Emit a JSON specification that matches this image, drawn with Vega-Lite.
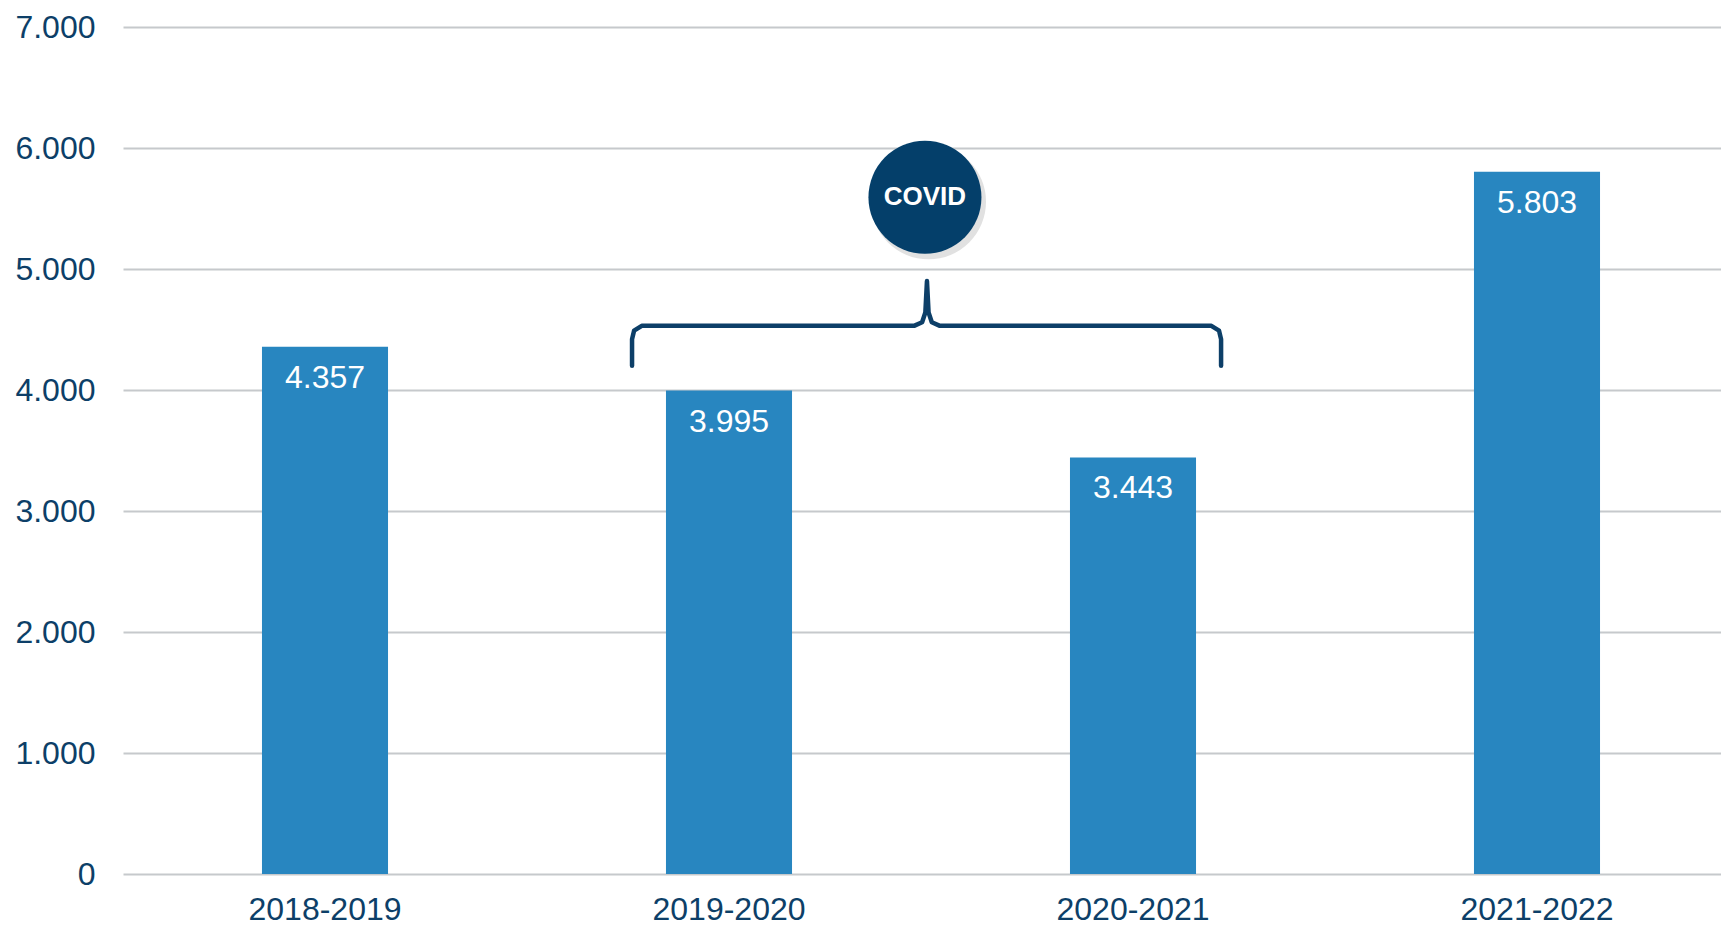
{
  "$schema": "https://vega.github.io/schema/vega-lite/v6.json",
  "autosize": {"type": "none"},
  "padding": {"left": 123, "top": 27, "right": 0, "bottom": 52},
  "width": 1616,
  "height": 847,
  "background": "#ffffff",
  "config": {
    "view": {"stroke": null},
    "font": "Liberation Sans",
    "locale": {"number": {"decimal": ",", "thousands": ".", "grouping": [3], "currency": ["", " €"]}}
  },
  "datasets": {
    "seasons": [
      {"season": "2018-2019", "value": 4357},
      {"season": "2019-2020", "value": 3995},
      {"season": "2020-2021", "value": 3443},
      {"season": "2021-2022", "value": 5803}
    ],
    "brace": [
      {"order": 1, "xi": 0.760, "v": 4200},
      {"order": 2, "xi": 0.760, "v": 4420},
      {"order": 3, "xi": 0.765, "v": 4490},
      {"order": 4, "xi": 0.784, "v": 4530},
      {"order": 5, "xi": 1.458, "v": 4530},
      {"order": 6, "xi": 1.478, "v": 4560},
      {"order": 7, "xi": 1.486, "v": 4640},
      {"order": 8, "xi": 1.490, "v": 4900},
      {"order": 9, "xi": 1.494, "v": 4640},
      {"order": 10, "xi": 1.502, "v": 4560},
      {"order": 11, "xi": 1.522, "v": 4530},
      {"order": 12, "xi": 2.194, "v": 4530},
      {"order": 13, "xi": 2.213, "v": 4490},
      {"order": 14, "xi": 2.218, "v": 4420},
      {"order": 15, "xi": 2.218, "v": 4200}
    ],
    "badge": [
      {"xi": 1.485, "v": 5593, "label": "COVID"}
    ],
    "badgeShadow": [
      {"xi": 1.494, "v": 5555}
    ]
  },
  "resolve": {"scale": {"x": "independent"}, "axis": {"x": "independent"}},
  "layer": [
    {
      "data": {"name": "seasons"},
      "mark": {"type": "bar", "color": "#2886C0"},
      "encoding": {
        "x": {
          "field": "season", "type": "nominal", "sort": null,
          "scale": {"paddingInner": 0.688, "paddingOuter": 0.344},
          "axis": {
            "title": null, "domain": false, "ticks": false, "tickSize": 0,
            "labelAngle": 0, "labelFontSize": 32, "labelColor": "#0D3F68",
            "labelPadding": 20, "grid": false
          }
        },
        "y": {
          "field": "value", "type": "quantitative",
          "scale": {"domain": [0, 7000], "nice": false},
          "axis": {
            "title": null, "domain": false, "ticks": false, "tickSize": 0,
            "values": [0, 1000, 2000, 3000, 4000, 5000, 6000, 7000],
            "format": ",d", "labelFontSize": 32, "labelColor": "#0D3F68",
            "labelPadding": 28, "gridColor": "#C6C9CC", "gridWidth": 2
          }
        }
      }
    },
    {
      "data": {"name": "seasons"},
      "mark": {"type": "text", "color": "#ffffff", "fontSize": 32, "baseline": "middle", "dy": 31},
      "encoding": {
        "x": {"field": "season", "type": "nominal", "sort": null, "scale": {"paddingInner": 0.688, "paddingOuter": 0.344}, "axis": null},
        "y": {"field": "value", "type": "quantitative"},
        "text": {"field": "value", "type": "quantitative", "format": ",d"}
      }
    },
    {
      "data": {"name": "brace"},
      "mark": {"type": "line", "color": "#0D3F68", "strokeWidth": 4.5, "strokeCap": "round", "strokeJoin": "round", "interpolate": "linear"},
      "encoding": {
        "x": {"field": "xi", "type": "quantitative", "scale": {"domain": [-0.5, 3.5], "nice": false, "zero": false}, "axis": null},
        "y": {"field": "v", "type": "quantitative"},
        "order": {"field": "order", "type": "quantitative"}
      }
    },
    {
      "data": {"name": "badgeShadow"},
      "mark": {"type": "point", "shape": "circle", "filled": true, "color": "#9A9A9A", "opacity": 0.3, "size": 13200},
      "encoding": {
        "x": {"field": "xi", "type": "quantitative", "scale": {"domain": [-0.5, 3.5], "nice": false, "zero": false}, "axis": null},
        "y": {"field": "v", "type": "quantitative"}
      }
    },
    {
      "data": {"name": "badge"},
      "mark": {"type": "point", "shape": "circle", "filled": true, "color": "#043F6A", "opacity": 1, "size": 12769},
      "encoding": {
        "x": {"field": "xi", "type": "quantitative", "scale": {"domain": [-0.5, 3.5], "nice": false, "zero": false}, "axis": null},
        "y": {"field": "v", "type": "quantitative"}
      }
    },
    {
      "data": {"name": "badge"},
      "mark": {"type": "text", "color": "#ffffff", "fontSize": 26, "fontWeight": "bold", "baseline": "middle", "align": "center"},
      "encoding": {
        "x": {"field": "xi", "type": "quantitative", "scale": {"domain": [-0.5, 3.5], "nice": false, "zero": false}, "axis": null},
        "y": {"field": "v", "type": "quantitative"},
        "text": {"field": "label"}
      }
    }
  ]
}
